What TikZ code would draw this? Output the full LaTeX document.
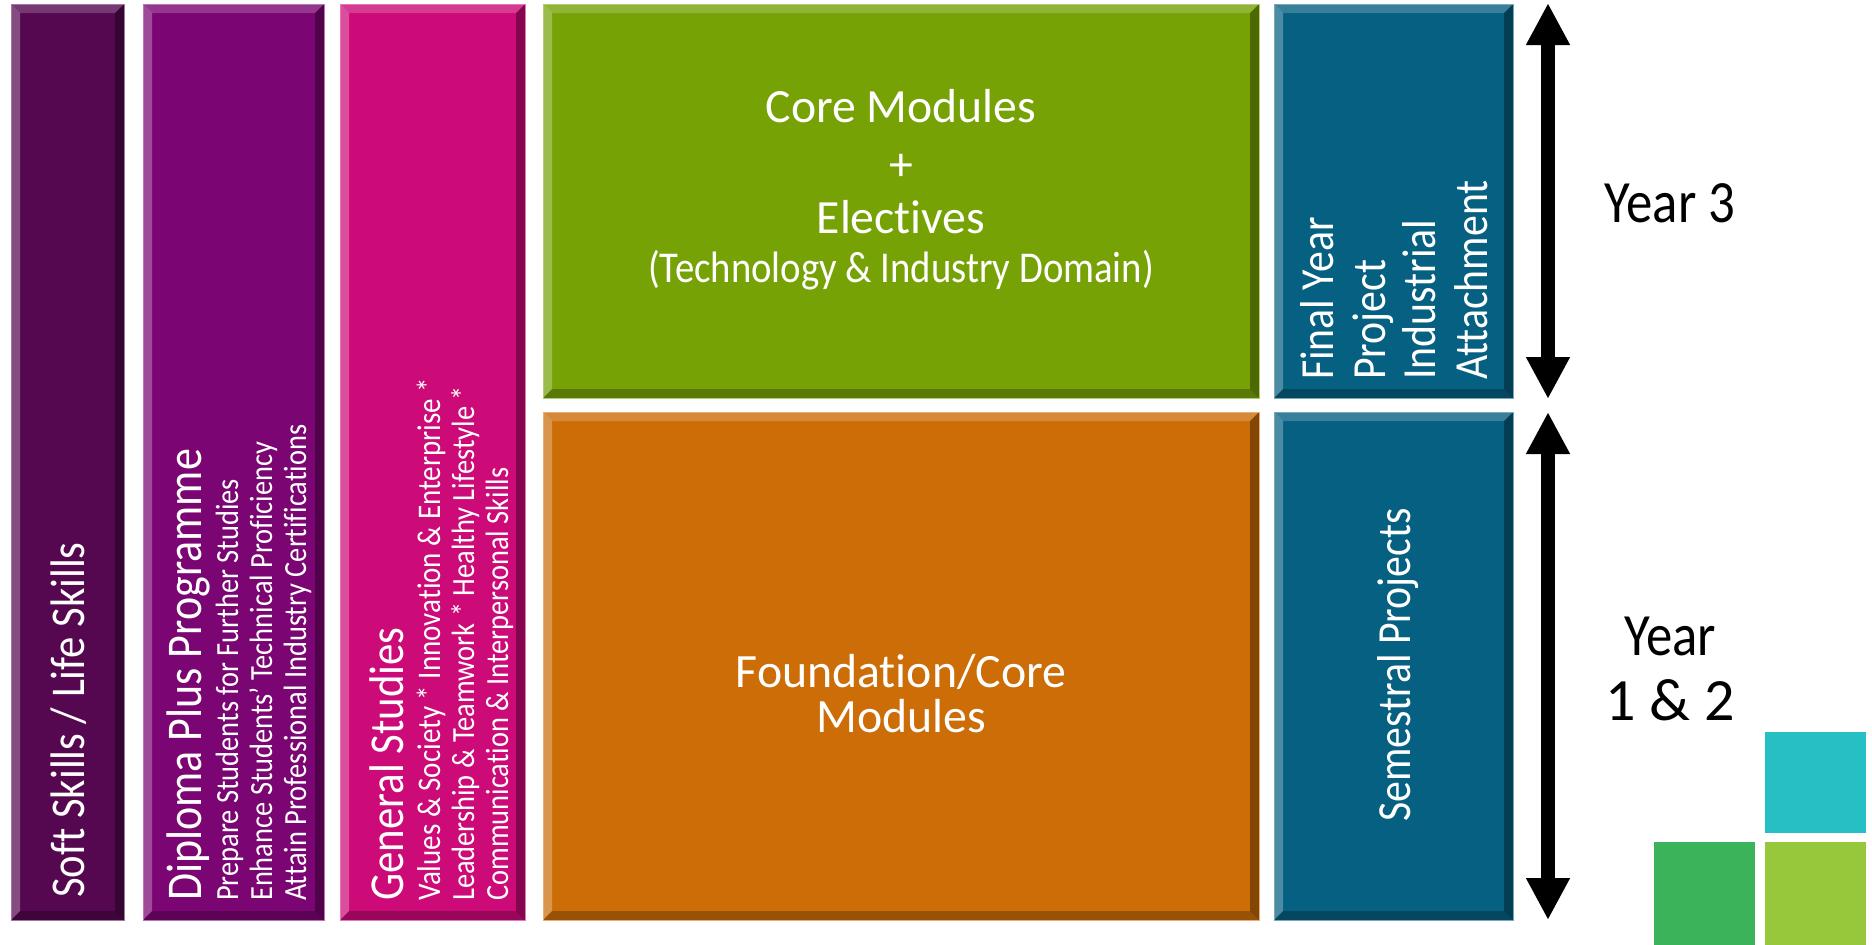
\documentclass[tikz,border=0pt]{standalone}
\usepackage{fontspec}
\setmainfont{Carlito}[Ligatures={TeX,NoCommon}]
\newfontfamily\cfn[FakeStretch=0.88,Ligatures={TeX,NoCommon}]{Carlito}
\usetikzlibrary{arrows.meta}
\definecolor{softc}{RGB}{85,8,80}
\definecolor{diplc}{RGB}{123,5,114}
\definecolor{genc}{RGB}{204,10,120}
\definecolor{greenc}{RGB}{118,162,6}
\definecolor{orangec}{RGB}{204,109,8}
\definecolor{tealc}{RGB}{6,96,130}
\definecolor{sqcyan}{RGB}{38,191,196}
\definecolor{sqgreen}{RGB}{58,179,90}
\definecolor{sqlime}{RGB}{151,200,60}
\newcommand\fsz[1]{\fontsize{#1}{#1}\selectfont}
\tikzset{
  bev/.style={path picture={
    \path (path picture bounding box.north west) coordinate (bNW)
          (path picture bounding box.north east) coordinate (bNE)
          (path picture bounding box.south west) coordinate (bSW)
          (path picture bounding box.south east) coordinate (bSE);
    \fill[white,opacity=.2] (bNW) -- (bNE) -- ([xshift=-9pt,yshift=-9pt]bNE) -- ([xshift=9pt,yshift=-9pt]bNW) -- cycle;
    \fill[white,opacity=.28] (bNW) -- ([xshift=9pt,yshift=-9pt]bNW) -- ([xshift=9pt,yshift=9pt]bSW) -- (bSW) -- cycle;
    \fill[black,opacity=.35] (bNE) -- (bSE) -- ([xshift=-9pt,yshift=9pt]bSE) -- ([xshift=-9pt,yshift=-9pt]bNE) -- cycle;
    \fill[black,opacity=.25] (bSW) -- ([xshift=9pt,yshift=9pt]bSW) -- ([xshift=-9pt,yshift=9pt]bSE) -- (bSE) -- cycle;
  }},
  bx/.style={anchor=north west, inner sep=0pt, outer sep=0pt, line width=0.8pt, bev},
  sq/.style={anchor=north west, inner sep=0pt, outer sep=0pt},
  rt/.style={rotate=90, anchor=base west, inner sep=0pt, text=white},
  ht/.style={anchor=base, inner sep=0pt, text=white},
  yr/.style={anchor=base, inner sep=0pt, text=black, font=\cfn\fsz{60}},
  dbl/.style={line width=14pt, {Triangle[width=41pt,length=42pt]}-{Triangle[width=41pt,length=42pt]}}
}
\begin{document}
\begin{tikzpicture}[x=1pt,y=-1pt]
\fill[white] (0,0) rectangle (1872,945);
\useasboundingbox (0,0) rectangle (1872,945);
% boxes
\node[bx, fill=softc, draw=softc!55!white, minimum width=113pt, minimum height=916pt] (soft) at (11,4) {};
\node[bx, fill=diplc, draw=diplc!55!white, minimum width=181pt, minimum height=916pt] (dipl) at (143,4) {};
\node[bx, fill=genc, draw=genc!55!white, minimum width=185pt, minimum height=916pt] (gen) at (340,4) {};
\node[bx, fill=greenc, draw=greenc!55!white, minimum width=716pt, minimum height=394pt] (core) at (543,4) {};
\node[bx, fill=orangec, draw=orangec!55!white, minimum width=716pt, minimum height=508pt] (found) at (543,412) {};
\node[bx, fill=tealc, draw=tealc!55!white, minimum width=239pt, minimum height=394pt] (fyp) at (1274,4) {};
\node[bx, fill=tealc, draw=tealc!55!white, minimum width=239pt, minimum height=508pt] (sem) at (1274,412) {};
% squares
\node[sq, fill=sqcyan, minimum width=101pt, minimum height=101pt] (sqa) at (1765,732) {};
\node[sq, fill=sqgreen, minimum width=101pt, minimum height=103pt] (sqb) at (1654,842) {};
\node[sq, fill=sqlime, minimum width=101pt, minimum height=103pt] (sqc) at (1765,842) {};
% soft skills
\node[rt, font=\cfn\fsz{48.5}] (softt) at (84,898) {Soft Skills / Life Skills};
% diploma plus
\node[rt, font=\cfn\fsz{50}] (diplt) at (201,901) {Diploma Plus Programme};
\node[rt, font=\cfn\fsz{32.3}] (dipla) at (238,901) {Prepare Students for Further Studies};
\node[rt, font=\cfn\fsz{32.3}] (diplb) at (272,901) {Enhance Students’ Technical Proficiency};
\node[rt, font=\cfn\fsz{32.3}] (diplc) at (306,901) {Attain Professional Industry Certifications};
% general studies
\node[rt, font=\cfn\fsz{48.7}] (gent) at (403,901) {General Studies};
\node[rt, font=\cfn\fsz{33}] (gena) at (440,901) {Values \& Society * Innovation \& Enterprise *};
\node[rt, font=\cfn\fsz{32.3}] (genb) at (474,901) {Leadership \& Teamwork * Healthy Lifestyle *};
\node[rt, font=\cfn\fsz{32.3}] (genc) at (508,901) {Communication \& Interpersonal Skills};
% core modules
\node[ht, font=\fsz{47.7}] (coret) at (901,122) {Core Modules};
\node[ht, anchor=center, font=\fsz{47.7}] (plus) at (901,167) {+};
\node[ht, font=\fsz{47.7}] (elect) at (901,233) {Electives};
\node[ht, font=\cfn\fsz{44}] (techd) at (901,282) {(Technology \& Industry Domain)};
% foundation
\node[ht, font=\fsz{47.8}] (foundt) at (901,687) {Foundation/Core};
\node[ht, font=\fsz{47.8}] (foundm) at (901,732) {Modules};
% final year
\node[rt, font=\cfn\fsz{47.5}] (fypa) at (1333,380) {Final Year};
\node[rt, font=\cfn\fsz{47.5}] (fypb) at (1385,380) {Project};
\node[rt, font=\cfn\fsz{47.5}] (fypc) at (1435,380) {Industrial};
\node[rt, font=\cfn\fsz{47.5}] (fypd) at (1487,380) {Attachment};
% semestral
\node[rt, anchor=base, font=\cfn\fsz{47.5}] (semt) at (1410,665) {Semestral Projects};
% arrows
\coordinate (a3t) at (1548,3);
\coordinate (a3b) at (1548,399);
\coordinate (a12t) at (1548,412);
\coordinate (a12b) at (1548,920);
\draw[dbl] (a3t) -- (a3b);
\draw[dbl] (a12t) -- (a12b);
% year labels
\node[yr] (y3) at (1670,222) {Year 3};
\node[yr] (y12a) at (1670,655) {Year};
\node[yr, font=\fsz{60}] (y12b) at (1670,720) {1 \& 2};
\end{tikzpicture}
\end{document}
